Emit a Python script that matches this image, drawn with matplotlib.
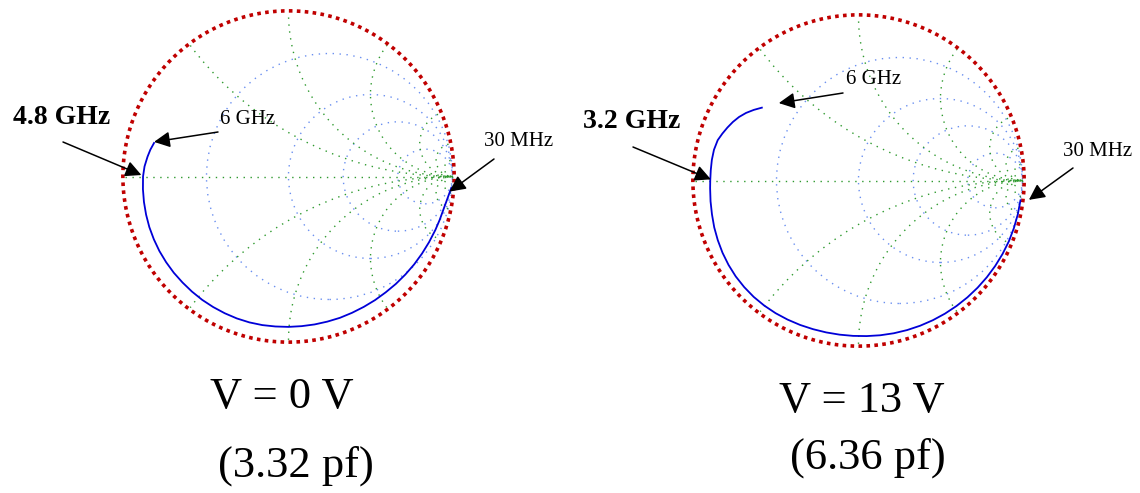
import numpy as np
import matplotlib.pyplot as plt
from matplotlib.patches import Circle

# grid values of the two Smith charts
r_circles = [1/3, 1, 2, 5]
x_arcs = [0.5, 1, 2, 5, 10, 20]

left_ang = [-4, -8, -12, -16, -20, -25, -30, -35, -40, -45, -50, -55, -60, -65,
            -70, -75, -80, -85, -90, -95, -100, -105, -110, -115, -120, -125,
            -130, -135, -140, -145, -150, -155, -160, -165, -170, -175, -180,
            -184, -188, -191, -194]
left_mag = [0.995, 0.978, 0.966, 0.959, 0.953, 0.946, 0.940, 0.935, 0.930, 0.926,
            0.922, 0.920, 0.918, 0.917, 0.917, 0.916, 0.916, 0.916, 0.917, 0.918,
            0.920, 0.921, 0.921, 0.920, 0.919, 0.918, 0.916, 0.914, 0.913, 0.911,
            0.909, 0.906, 0.903, 0.899, 0.895, 0.891, 0.887, 0.880, 0.868, 0.858,
            0.845]

right_ang = [-7, -12, -17, -22, -27, -32, -37, -42, -47, -52, -57, -62, -67, -72,
             -77, -82, -87, -92, -97, -102, -107, -112, -117, -122, -127, -132,
             -137, -142, -147, -152, -157, -162, -167, -172, -177, -180, -184,
             -188, -192, -196, -199, -202, -205, -208, -211, -214, -217]
right_mag = [0.995, 0.993, 0.991, 0.989, 0.986, 0.983, 0.980, 0.977, 0.974, 0.971,
             0.968, 0.965, 0.962, 0.959, 0.956, 0.953, 0.950, 0.948, 0.947, 0.947,
             0.948, 0.950, 0.952, 0.954, 0.955, 0.955, 0.953, 0.950, 0.945, 0.939,
             0.932, 0.925, 0.917, 0.911, 0.906, 0.904, 0.903, 0.903, 0.901, 0.893,
             0.878, 0.862, 0.845, 0.825, 0.800, 0.770, 0.738]

left_marks = ["4.8 GHz", "6 GHz", "30 MHz"]
right_marks = ["3.2 GHz", "6 GHz", "30 MHz"]
left_titles = ["V = 0 V", "(3.32 pf)"]
right_titles = ["V = 13 V", "(6.36 pf)"]

W, H = 1140, 493
serif = "Liberation Serif"
green = "#2f9a2f"
blue = "#6a8ff0"
dots = (0, (1, 4))

fig = plt.figure(figsize=(W / 100, H / 100), dpi=100)


def smith_axes(cx, cy, R, lim=1.1):
    s = 2 * lim * R
    ax = fig.add_axes([(cx - lim * R) / W, (H - cy - lim * R) / H, s / W, s / H])
    ax.set_xlim(-lim, lim)
    ax.set_ylim(-lim, lim)
    ax.axis("off")
    clip = Circle((0, 0), 1, transform=ax.transData)
    for r in r_circles:
        ax.add_patch(Circle((r / (r + 1), 0), 1 / (r + 1), fill=False, ec=blue,
                            lw=1.0, ls=dots))
    for x in x_arcs:
        for sg in (1, -1):
            c = Circle((1, sg / x), 1 / x, fill=False, ec=green, lw=1.0, ls=dots)
            ax.add_patch(c)
            c.set_clip_path(clip)
    ax.plot([-1, 1], [0, 0], color=green, lw=1.0, ls=dots)
    ax.add_patch(Circle((0, 0), 1.01, fill=False, ec="#c00000", lw=2.6,
                        ls=(0, (1, 1.2))))
    return ax


def trace(ax, ang, mag):
    a = np.radians(ang)
    m = np.array(mag)
    ax.plot(m * np.cos(a), m * np.sin(a), color="#0000d8", lw=1.3)


def px(x, y):
    return (x / W, 1 - y / H)


def arrow(ax, tip, tail):
    ax.annotate("", xy=tip, xycoords="data", xytext=px(*tail),
                textcoords="figure fraction", annotation_clip=False,
                arrowprops=dict(arrowstyle="-|>", color="k", lw=1.1,
                                mutation_scale=24, shrinkA=0, shrinkB=0))


# left chart
ax1 = smith_axes(288.5, 176.5, 164)
trace(ax1, left_ang, left_mag)
arrow(ax1, (-0.897, 0.009), (63, 142))
arrow(ax1, (-0.820, 0.211), (218, 132))
arrow(ax1, (0.982, -0.092), (494, 159))
fig.text(*px(62, 118), left_marks[0], family=serif, fontsize=20, weight="bold",
         ha="center", va="center")
fig.text(*px(248, 119), left_marks[1], family=serif, fontsize=15,
         ha="center", va="center")
fig.text(*px(519, 141), left_marks[2], family=serif, fontsize=15,
         ha="center", va="center")
fig.text(*px(282, 397), left_titles[0], family=serif, fontsize=32,
         ha="center", va="center")
fig.text(*px(296, 466), left_titles[1], family=serif, fontsize=32,
         ha="center", va="center")

# right chart
ax2 = smith_axes(858.5, 180.5, 164)
trace(ax2, right_ang, right_mag)
arrow(ax2, (-0.900, 0.007), (633, 147))
arrow(ax2, (-0.486, 0.472), (843, 93))
arrow(ax2, (1.039, -0.118), (1073, 168))
fig.text(*px(632, 121), right_marks[0], family=serif, fontsize=20, weight="bold",
         ha="center", va="center")
fig.text(*px(874, 80), right_marks[1], family=serif, fontsize=15,
         ha="center", va="center")
fig.text(*px(1098, 151), right_marks[2], family=serif, fontsize=15,
         ha="center", va="center")
fig.text(*px(862, 401), right_titles[0], family=serif, fontsize=32,
         ha="center", va="center")
fig.text(*px(868, 458), right_titles[1], family=serif, fontsize=32,
         ha="center", va="center")

fig.savefig("out.png", dpi=100)
